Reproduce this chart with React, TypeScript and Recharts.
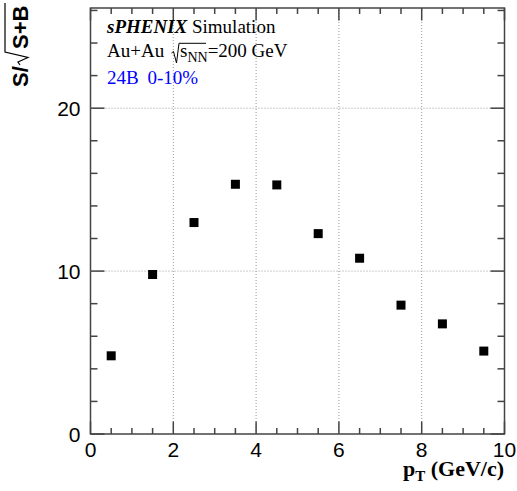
import React from "react"
import { ScatterChart, Scatter, XAxis, YAxis, ReferenceLine, ReferenceArea } from "recharts"

// S/sqrt(S+B) vs pT, one point per 1 GeV/c bin
const ptBins = [0.5, 1.5, 2.5, 3.5, 4.5, 5.5, 6.5, 7.5, 8.5, 9.5]
const significance = [4.8, 9.79, 12.98, 15.33, 15.29, 12.3, 10.79, 7.91, 6.76, 5.09]

// axis divisions (ROOT style: long ticks labelled, short ones not)
const xTicks = [0, 0.5, 1, 1.5, 2, 2.5, 3, 3.5, 4, 4.5, 5, 5.5, 6, 6.5, 7, 7.5, 8, 8.5, 9, 9.5, 10]
const xLabelled = [0, 2, 4, 6, 8, 10]
const yTicks = [0, 2, 4, 6, 8, 10, 12, 14, 16, 18, 20, 22, 24, 26]
const yLabelled = [0, 10, 20]
const xGrid = [2, 4, 6, 8]
const yGrid = [10, 20]

const X_DOMAIN: [number, number] = [0, 10]
const Y_DOMAIN: [number, number] = [0, 26.15]

const W = 517
const H = 491
const MARGIN = { top: 8, right: 12.5, bottom: 0, left: 0.5 }
const Y_AXIS_W = 90
const X_AXIS_H = 57
const PLOT_W = W - MARGIN.left - MARGIN.right - Y_AXIS_W
const PLOT_H = H - MARGIN.top - MARGIN.bottom - X_AXIS_H

const FRAME = "#444"
const SANS = "Liberation Sans, Arial, sans-serif"
const SERIF = "Liberation Serif, Times New Roman, serif"

const data = ptBins.map((pt, i) => ({ pt, s: significance[i] }))

// labels + inward tick marks (bottom and mirrored top) at the axis' tick positions
function BottomTick(props: any) {
  const { x, y, payload } = props
  const major = xLabelled.includes(payload.value)
  const len = major ? 12.5 : 6
  return (
    <g>
      <path d={`M${x},${y}V${y - len}`} stroke={FRAME} strokeWidth={1.5} fill="none" />
      <path d={`M${x},${y - PLOT_H}V${y - PLOT_H + len}`} stroke={FRAME} strokeWidth={1.5} fill="none" />
      {major && (
        <text x={x} y={y + 22.5} textAnchor="middle" fontSize={21} fontFamily={SANS} fill="#000">
          {payload.value}
        </text>
      )}
    </g>
  )
}

function LeftTick(props: any) {
  const { x, y, payload } = props
  const major = yLabelled.includes(payload.value)
  const len = major ? 14 : 7
  return (
    <g>
      <path d={`M${x},${y}H${x + len}`} stroke={FRAME} strokeWidth={1.5} fill="none" />
      <path d={`M${x + PLOT_W},${y}H${x + PLOT_W - len}`} stroke={FRAME} strokeWidth={1.5} fill="none" />
      {major && (
        <text x={x - 10} y={y + 7.5} textAnchor="end" fontSize={21} fontFamily={SANS} fill="#000">
          {payload.value}
        </text>
      )}
    </g>
  )
}

const square = (p: any) => (
  <rect x={p.cx - 4.5} y={p.cy - 4.5} width={9} height={9} fill="#000" />
)

function Titles() {
  return (
    <svg
      width={W}
      height={H}
      style={{ position: "absolute", left: 0, top: 0, pointerEvents: "none" }}
    >
      {/* y title: S/sqrt(S+B), rotated */}
      <g transform="translate(28,87) rotate(-90)" fontFamily={SANS} fontWeight="bold" fontSize={22}>
        <text x={0} y={0}>S/</text>
        <path d="M22,-8 L25,-10 L29.5,0 L35,-23 L84,-23" fill="none" stroke="#000" strokeWidth={1.2} />
        <text x={38} y={0}>S+B</text>
      </g>

      {/* x title */}
      <text x={504} y={476} textAnchor="end" fontFamily={SERIF} fontWeight="bold" fontSize={22}>
        p<tspan fontSize={15} dy={5}>T</tspan>
        <tspan dy={-5}> (GeV/c)</tspan>
      </text>

      <text x={107} y={32.5} fontFamily={SERIF} fontSize={19}>
        <tspan fontWeight="bold" fontStyle="italic">sPHENIX</tspan> Simulation
      </text>
      <text x={107} y={56.7} fontFamily={SERIF} fontSize={19}>
        Au+Au
      </text>
      <path d="M171.5,53 L173.5,51.5 L176.5,63 L179,43.3 L206,43.3" fill="none" stroke="#000" strokeWidth={1} />
      <text x={180} y={56.7} fontFamily={SERIF} fontSize={19}>
        s<tspan fontSize={14} dy={5}>NN</tspan>
        <tspan dy={-5}>=200 GeV</tspan>
      </text>
      <text x={107} y={83.5} fontFamily={SERIF} fontSize={19} fill="#0000ff">
        24B<tspan x={147.5}>0-10%</tspan>
      </text>
    </svg>
  )
}

export default function App() {
  return (
    <div style={{ position: "absolute", left: 0, top: 0, width: W, height: H, background: "#fff" }}>
      <ScatterChart width={W} height={H} margin={MARGIN}>
        <XAxis
          type="number"
          dataKey="pt"
          domain={X_DOMAIN}
          ticks={xTicks}
          interval={0}
          allowDataOverflow
          height={X_AXIS_H}
          tickSize={0}
          tickMargin={0}
          tickLine={false}
          axisLine={false}
          tick={BottomTick}
        />
        <YAxis
          type="number"
          dataKey="s"
          domain={Y_DOMAIN}
          ticks={yTicks}
          interval={0}
          allowDataOverflow
          width={Y_AXIS_W}
          tickSize={0}
          tickMargin={0}
          tickLine={false}
          axisLine={false}
          tick={LeftTick}
        />
        {xGrid.map((v) => (
          <ReferenceLine key={"gx" + v} x={v} stroke="#999" strokeDasharray="1 2" />
        ))}
        {yGrid.map((v) => (
          <ReferenceLine key={"gy" + v} y={v} stroke="#999" strokeDasharray="1 2" />
        ))}
        <ReferenceArea
          x1={X_DOMAIN[0]}
          x2={X_DOMAIN[1]}
          y1={Y_DOMAIN[0]}
          y2={Y_DOMAIN[1]}
          fill="none"
          fillOpacity={0}
          stroke={FRAME}
          strokeWidth={1.5}
          ifOverflow="visible"
        />
        <Scatter data={data} shape={square} isAnimationActive={false} />
      </ScatterChart>
      <Titles />
    </div>
  )
}
